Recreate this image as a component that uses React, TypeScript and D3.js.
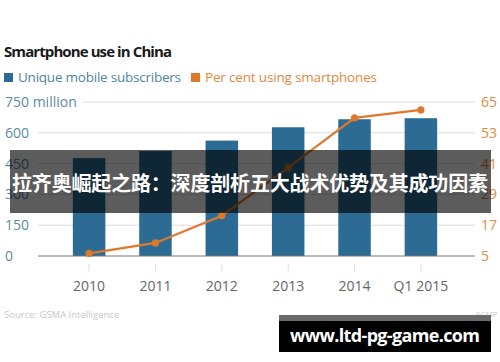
import React from "react";
import * as d3 from "d3";

const categories = ["2010", "2011", "2012", "2013", "2014", "Q1 2015"];
const subscribers = [477, 511, 562, 627, 666, 671];
const perCent = [6.0, 10.1, 20.7, 39.4, 58.8, 61.9];
const leftTicks = [0, 150, 300, 450, 600, 750];
const rightTicks = [5, 17, 29, 41, 53, 65];

const W = 500;
const H = 362;
const BLUE = "#2b6b94";
const ORANGE = "#e0782c";
const FONT = "'Open Sans', 'Noto Sans', sans-serif";

export default function App() {
  const x = d3.scaleBand<string>().domain(categories).range([39, 471]).padding(0.51);
  const yL = d3.scaleLinear().domain([0, 750]).range([256, 102]);
  const yR = d3.scaleLinear().domain([5, 65]).range([256, 102]);
  const cx = (c: string) => (x(c) as number) + x.bandwidth() / 2;
  const line = d3
    .line<number>()
    .x((_, i) => cx(categories[i]))
    .y((d) => yR(d));

  return (
    <svg
      width={W}
      height={H}
      style={{ position: "absolute", left: 0, top: 0, background: "#fff" }}
      fontFamily={FONT}
    >
      <rect width={W} height={H} fill="#fff" />
      <text x={4} y={57} fontSize={15} fontWeight={700} fill="#1a1a1a" textLength={168}>
        Smartphone use in China
      </text>
      <rect x={4} y={73} width={9} height={9} fill={BLUE} />
      <text x={18} y={82} fontSize={13.5} fill="#4f84a2" textLength={163}>
        Unique mobile subscribers
      </text>
      <rect x={191} y={73} width={9} height={9} fill={ORANGE} />
      <text x={205} y={82} fontSize={13.5} fill="#e08a40" textLength={172}>
        Per cent using smartphones
      </text>

      {leftTicks.map((t) =>
        t === 0 ? null : (
          <line
            key={"g" + t}
            x1={t === 750 ? 83 : 38}
            x2={475}
            y1={yL(t)}
            y2={yL(t)}
            stroke="#dcdcdc"
            strokeWidth={1}
          />
        )
      )}
      {leftTicks.map((t) => (
        <text key={"l" + t} x={5} y={yL(t) + 5} fontSize={14} fill="#5b8ba3">
          {t === 750 ? "750 million" : t}
        </text>
      ))}
      {rightTicks.map((t) => (
        <text key={"r" + t} x={481} y={yR(t) + 5} fontSize={14} fill="#e08a40">
          {t}
        </text>
      ))}

      {categories.map((c, i) => (
        <rect
          key={c}
          x={x(c)}
          y={yL(subscribers[i])}
          width={x.bandwidth()}
          height={yL(0) - yL(subscribers[i])}
          fill={BLUE}
        />
      ))}
      <line x1={38} x2={475} y1={256} y2={256} stroke="#777" strokeWidth={1} />
      {categories.map((c) => (
        <line key={"t" + c} x1={cx(c)} x2={cx(c)} y1={264} y2={271} stroke="#ddd" strokeWidth={1} />
      ))}
      {categories.map((c) => (
        <text key={"x" + c} x={cx(c)} y={291} fontSize={14} fill="#666" textAnchor="middle">
          {c}
        </text>
      ))}

      <path d={line(perCent) || ""} fill="none" stroke={ORANGE} strokeWidth={2.2} />
      {perCent.map((v, i) => (
        <circle key={"p" + i} cx={cx(categories[i])} cy={yR(v)} r={3.6} fill={ORANGE} />
      ))}

      <text x={4} y={318} fontSize={9.5} fill="#c8c8c8">
        Source: GSMA Intelligence
      </text>
      <text x={476} y={317} fontSize={8} fill="#c8c8c8">
        SCMP
      </text>

      <rect x={10} y={150} width={481} height={63} fill="rgba(0,0,0,0.64)" />
      <text
        x={250}
        y={191}
        fontSize={20}
        fontWeight={700}
        fill="#fff"
        textAnchor="middle"
        fontFamily="'Noto Sans CJK SC', sans-serif"
        textLength={476}
      >
        拉齐奥崛起之路：深度剖析五大战术优势及其成功因素
      </text>

      <rect x={279} y={315} width={212} height={6} fill="#6a6a6a" />
      <rect x={279} y={321} width={212} height={31} fill="#000" />
      <text
        x={385}
        y={342}
        fontSize={18}
        fontWeight={700}
        fill="#fff"
        textAnchor="middle"
        fontFamily="'Open Sans', 'Noto Sans', sans-serif"
        textLength={190}
      >
        www.ltd-pg-game.com
      </text>
    </svg>
  );
}
